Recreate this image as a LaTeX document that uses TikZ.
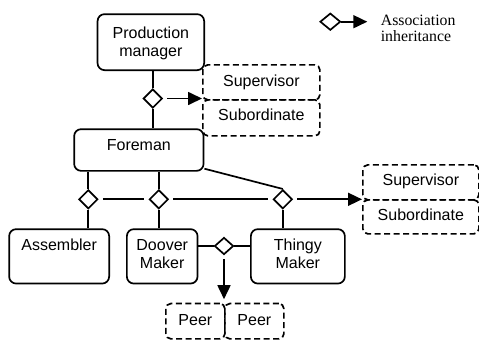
\documentclass[tikz,border=0pt]{standalone}
\usepackage{fontspec}
\setmainfont{Liberation Sans}
\newfontfamily\legendfont{Liberation Serif}
\usetikzlibrary{shapes.geometric,arrows.meta}
% two centred lines whose baseline is the first line
\newcommand\stackedtext[2]{\begin{tabular}[t]{@{}c@{}}#1\\#2\end{tabular}}

\begin{document}
\begin{tikzpicture}[x=1pt,y=-1pt, line width=1.7pt,
  every node/.style={font=\fontsize{16}{18}\selectfont},
  entity/.style={draw, rounded corners=7pt, inner xsep=0pt, inner ysep=0pt, anchor=north west},
  role/.style={entity, dashed, dash pattern=on 6pt off 3.5pt, rounded corners=5pt},
  assoc/.style={draw, diamond, inner sep=0pt, minimum width=19pt, minimum height=19pt, fill=white},
  inherit/.style={-{Triangle[length=14pt,width=13pt]}},
]
\useasboundingbox (0,0) rectangle (479,341);

% class boxes
\node[entity, minimum width=106.6pt, text height=24pt, text depth=32pt] (pm) at (96.7,13.3) {\stackedtext{Production}{manager}};
\node[entity, minimum width=129.4pt, text height=21.7pt, text depth=20pt] (fm) at (73.3,128.3) {Foreman};
\node[entity, minimum width=100pt, text height=21.7pt, text depth=32.7pt] (asm) at (8.3,228.3) {Assembler};
\node[entity, minimum width=70.7pt, text height=21.7pt, text depth=32.7pt] (doover) at (126,228.3) {\stackedtext{Doover}{Maker}};
\node[entity, minimum width=94pt, text height=21.7pt, text depth=32.7pt] (thingy) at (250,228.3) {\stackedtext{Thingy}{Maker}};

% role boxes
\node[role, minimum width=117pt, text height=22pt, text depth=13pt] (sup1) at (202,64) {Supervisor};
\node[role, minimum width=117pt, text height=21pt, text depth=15pt] (sub1) at (202,99) {Subordinate};
\node[role, minimum width=116pt, text height=20.3pt, text depth=14.7pt] (sup2) at (362,164) {Supervisor};
\node[role, minimum width=116pt, text height=20.3pt, text depth=13.7pt] (sub2) at (362,199) {Subordinate};
\node[role, minimum width=59pt, text height=22.3pt, text depth=13pt] (peer1) at (165,302.7) {Peer};
\node[role, minimum width=59pt, text height=22.3pt, text depth=13pt] (peer2) at (224,302.7) {Peer};

% association diamonds
\node[assoc] (d1) at (152.8,98.5) {};
\node[assoc] (d2) at (88.3,199.3) {};
\node[assoc] (d3) at (158.8,199.3) {};
\node[assoc] (d4) at (282.8,199.3) {};
\node[assoc, minimum height=17pt] (d5) at (224,246) {};

% legend
\node[assoc, minimum width=20.5pt, minimum height=17pt] (d0) at (330.3,21.7) {};
\coordinate (legtip) at (367.3,21.7);
\node[anchor=base west, inner sep=0pt, font=\legendfont\fontsize{15.8}{16}\selectfont] (legend) at (380,25.7)
  {\begin{tabular}[t]{@{}l@{}}Association\\inheritance\end{tabular}};
\draw[inherit] (d0.east) -- (legtip);

% production manager / foreman
\draw (d1.north) -- (d1.north |- pm.south);
\draw (d1.south) -- (d1.south |- fm.north);
\draw[inherit, shorten <=4pt] (d1.east) -- (d1.east -| sup1.west);

% foreman / workers
\draw (d2.north) -- (d2.north |- fm.south);
\draw (d2.south) -- (d2.south |- asm.north);
\draw (d3.north) -- (d3.north |- fm.south);
\draw (d3.south) -- (d3.south |- doover.north);
\draw ([yshift=3pt]fm.south east) -- (d4.north);
\draw (d4.south) -- (d4.south |- thingy.north);
\draw[shorten <=4.3pt, shorten >=4.3pt] (d2.east) -- (d3.west);
\draw[shorten <=4.3pt, shorten >=4.3pt] (d3.east) -- (d4.west);
\draw[inherit, shorten <=4.3pt] (d4.east) -- (d4.east -| sup2.west);

% peers
\draw (d5.west) -- (d5.west -| doover.east);
\draw (d5.east) -- (d5.east -| thingy.west);
\draw[inherit, shorten <=4pt, shorten >=3.5pt] (d5.south) -- (d5.south |- peer1.north);
\end{tikzpicture}
\end{document}
